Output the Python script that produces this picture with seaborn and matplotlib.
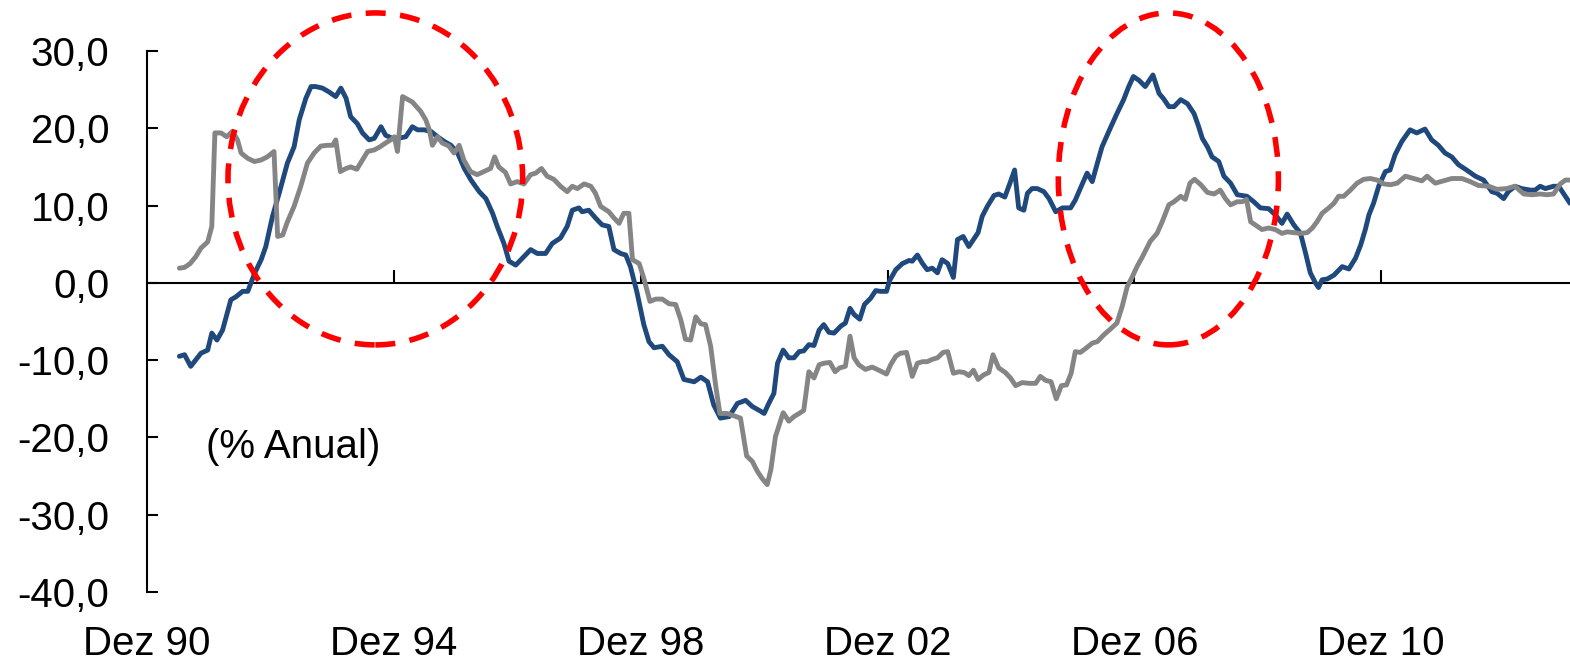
import numpy as np
import pandas as pd
import matplotlib
matplotlib.use("Agg")
import matplotlib.pyplot as plt
from matplotlib.patches import Ellipse
import seaborn as sns

# months after Dez 90 and annual % change
blue_months = [6.3, 7.3, 8.5, 10.5, 11.8, 12.6, 13.6, 14.7, 16.3, 17.3, 18.6, 19.6, 20.9, 22.2, 23.1, 24.4,
               25.7, 27.3, 28.6, 29.6, 30.9, 31.9, 32.8, 34.1, 35.4, 36.7, 37.7, 38.7, 39.6, 40.9, 41.9, 43.2,
               44.2, 45.5, 46.4, 47.7, 48.7, 50.3, 51.6, 52.6, 53.9, 55.2, 56.5, 57.8, 59.1, 60.4, 61.7, 63.0,
               64.6, 65.9, 67.2, 68.1, 69.4, 70.4, 71.7, 73.0, 74.6, 75.9, 77.5, 78.8, 80.4, 81.7, 82.7, 84.0,
               84.6, 85.9, 87.2, 88.5, 89.8, 90.8, 92.1, 93.1, 94.0, 95.3, 96.6, 97.6, 98.6, 100.2, 101.5, 103.1,
               104.4, 106.4, 107.7, 109.0, 110.2, 111.5, 113.2, 114.8, 116.4, 117.7, 119.3, 120.0, 120.9, 121.9,
               122.6, 123.7, 124.8, 125.8, 126.8, 127.7, 128.7, 129.7, 130.7, 131.6, 132.6, 133.6, 134.9, 135.8,
               136.7, 137.5, 138.6, 139.5, 140.7, 141.7, 142.6, 143.8, 144.4, 145.6, 146.9, 148.2, 148.8, 149.8,
               150.8, 151.7, 152.7, 153.7, 154.6, 155.7, 156.8, 157.6, 158.7, 159.8, 161.6, 162.4, 163.4, 164.7,
               165.6, 166.8, 167.8, 168.7, 169.5, 170.5, 171.2, 172.1, 173.1, 174.4, 175.4, 176.7, 178.0, 179.6,
               180.5, 181.8, 182.8, 183.8, 184.8, 185.7, 187.3, 188.6, 189.9, 190.9, 191.8, 192.9, 194.1, 195.6,
               196.8, 197.7, 198.7, 199.7, 201.0, 202.3, 203.6, 204.5, 205.2, 206.2, 207.1, 208.4, 209.4, 210.7,
               212.0, 213.9, 215.2, 216.5, 218.1, 219.4, 220.7, 221.7, 223.0, 224.3, 225.3, 226.2, 227.2, 227.8,
               228.5, 229.5, 230.8, 232.4, 233.7, 235.0, 236.0, 236.9, 237.6, 238.5, 239.5, 240.8, 241.7, 242.7,
               244.0, 245.6, 246.9, 248.5, 249.8, 251.1, 252.4, 253.7, 255.0, 256.6, 258.3, 259.9, 261.5, 262.5,
               263.8, 264.7, 266.0, 267.3, 269.0, 269.9, 270.9, 271.9, 273.5, 274.5, 275.4, 276.7]
blue_values = [-9.5, -9.3, -10.8, -9.1, -8.7, -6.5, -7.4, -6.1, -2.2, -1.8, -1.1, -1.1, 1.2, 3.0, 4.7, 8.6,
               11.6, 15.5, 17.6, 21.1, 23.9, 25.4, 25.4, 25.2, 24.7, 24.1, 25.2, 23.9, 21.5, 20.6, 19.4, 18.5,
               18.7, 20.2, 19.1, 18.7, 18.7, 18.9, 20.2, 19.8, 19.8, 19.6, 18.9, 18.3, 17.8, 16.8, 14.8, 13.3,
               11.8, 10.9, 9.0, 7.3, 5.1, 2.8, 2.3, 3.2, 4.3, 3.8, 3.8, 5.1, 5.8, 7.3, 9.4, 9.7,
               9.2, 9.4, 8.4, 7.5, 7.3, 4.3, 3.8, 3.6, 2.1, -1.3, -5.4, -7.6, -8.4, -8.2, -9.3, -10.2,
               -12.5, -12.8, -12.2, -12.8, -15.8, -17.5, -17.3, -15.6, -15.2, -16.0, -16.6, -16.9, -15.6, -14.3,
               -10.4, -8.7, -9.7, -9.7, -8.9, -8.8, -8.0, -8.1, -6.1, -5.4, -6.4, -6.5, -5.6, -5.2,
               -3.3, -4.1, -4.7, -2.8, -2.0, -1.0, -1.1, -1.1, 0.3, 1.7, 2.5, 2.9, 2.8, 3.6,
               2.5, 1.7, 1.9, 1.3, 3.0, 2.5, 0.7, 5.6, 6.0, 4.7, 6.5, 8.6, 9.9, 11.3,
               11.5, 11.1, 12.9, 14.6, 9.7, 9.4, 11.6, 12.2, 12.2, 11.8, 10.9, 9.2, 9.7, 9.7,
               10.7, 12.7, 14.2, 13.1, 15.5, 17.6, 20.0, 21.9, 23.7, 25.4, 26.7, 26.2, 25.4, 26.9,
               24.5, 23.8, 22.8, 22.8, 23.7, 23.2, 21.9, 20.2, 18.7, 17.6, 16.3, 15.7, 13.8, 12.9,
               11.4, 11.2, 10.5, 9.7, 9.6, 8.8, 7.7, 8.9, 7.5, 6.4, 3.8, 1.3, 0.0, -0.6,
               0.4, 0.5, 1.0, 2.1, 1.8, 3.2, 4.9, 6.9, 8.8, 10.3, 12.5, 14.4, 14.6, 16.6,
               18.3, 19.8, 19.4, 19.9, 18.5, 17.8, 16.8, 16.3, 15.3, 14.6, 13.8, 13.3, 11.8, 11.6,
               10.9, 11.8, 12.5, 12.2, 12.0, 12.0, 12.5, 12.2, 12.5, 12.5, 11.6, 10.3]

gray_months = [6.3, 7.3, 8.4, 9.5, 10.5, 11.8, 12.6, 13.2, 14.4, 15.5, 16.6, 17.6, 18.3, 19.6, 20.9, 22.2,
               23.4, 24.7, 25.4, 26.4, 27.3, 28.6, 29.9, 31.2, 32.5, 33.8, 35.1, 36.1, 36.7, 37.6, 38.7, 39.6,
               40.8, 41.9, 42.9, 44.2, 45.3, 46.4, 47.4, 48.1, 48.7, 49.7, 51.6, 53.2, 54.2, 54.9, 55.5, 56.5,
               57.4, 58.7, 59.7, 60.7, 61.6, 62.9, 64.2, 65.5, 66.8, 67.6, 68.4, 69.7, 70.7, 72.0, 73.3, 74.6,
               75.6, 76.7, 77.8, 79.1, 80.4, 81.7, 82.7, 83.7, 85.0, 86.3, 87.2, 88.2, 89.8, 90.8, 91.8, 92.7,
               93.7, 94.4, 95.7, 96.6, 97.8, 98.9, 100.2, 101.5, 102.8, 103.8, 104.7, 105.7, 106.7, 107.7, 108.6,
               109.6, 110.6, 111.4, 112.8, 114.1, 115.4, 116.6, 117.7, 118.7, 119.6, 120.6, 121.3, 122.2, 123.7,
               124.8, 125.8, 126.8, 127.7, 128.7, 129.7, 130.7, 131.6, 132.8, 133.8, 134.7, 135.8, 136.7, 137.5,
               138.4, 139.7, 141.0, 142.3, 143.8, 144.6, 145.6, 146.5, 147.7, 148.8, 149.8, 150.8, 151.7, 152.7,
               153.7, 154.8, 155.7, 156.8, 157.9, 158.9, 159.8, 160.7, 161.6, 162.7, 163.7, 164.5, 165.6, 166.9,
               167.9, 168.9, 170.2, 171.5, 172.8, 173.7, 174.7, 175.8, 176.8, 177.8, 178.8, 179.7, 180.5, 181.5,
               182.7, 183.8, 184.8, 186.1, 187.3, 188.6, 189.6, 190.6, 191.6, 192.5, 193.5, 195.1, 196.4, 197.4,
               198.7, 199.7, 201.0, 201.9, 202.8, 203.7, 204.9, 206.2, 207.5, 208.7, 209.7, 210.7, 212.0, 213.0,
               213.8, 214.6, 215.5, 216.8, 218.1, 219.4, 220.7, 221.7, 223.0, 224.3, 225.6, 226.6, 227.5, 228.5,
               229.8, 230.8, 231.7, 232.7, 234.0, 235.3, 236.6, 237.9, 239.2, 240.5, 241.8, 243.1, 244.7, 246.3,
               247.9, 248.9, 250.5, 252.1, 253.7, 255.7, 257.3, 258.9, 260.9, 262.5, 264.4, 266.0, 267.7, 269.3,
               270.9, 272.2, 273.5, 274.8, 275.8, 276.7]
gray_values = [1.9, 2.0, 2.5, 3.4, 4.5, 5.3, 7.3, 19.4, 19.4, 18.9, 19.6, 18.5, 16.8, 16.1, 15.7, 15.9,
               16.3, 17.0, 6.0, 6.2, 7.9, 9.9, 12.5, 15.5, 16.8, 17.7, 17.8, 17.8, 18.5, 14.4, 14.8, 15.0,
               14.7, 15.9, 17.0, 17.2, 17.6, 18.1, 18.5, 18.9, 17.0, 24.1, 23.4, 22.2, 21.1, 19.8, 17.8, 18.9,
               18.1, 17.7, 16.8, 17.8, 15.9, 14.4, 14.0, 14.4, 14.8, 16.3, 15.0, 14.3, 12.8, 13.1, 12.8, 14.0,
               14.2, 14.8, 13.8, 13.4, 12.5, 11.8, 12.5, 12.2, 12.8, 12.5, 11.6, 9.9, 9.2, 8.4, 7.7, 9.0,
               9.0, 3.0, 2.5, 0.6, -2.4, -2.1, -2.1, -2.7, -2.8, -4.8, -7.3, -7.4, -4.4, -5.3, -5.4,
               -8.2, -13.4, -16.9, -16.9, -17.2, -17.5, -22.4, -23.1, -24.4, -25.3, -26.1, -24.2, -19.9, -16.8,
               -17.9, -17.3, -16.9, -16.5, -11.5, -12.3, -10.6, -10.4, -10.3, -11.5, -11.0, -10.8, -6.9, -9.7,
               -10.6, -11.2, -10.9, -11.3, -11.8, -10.6, -9.5, -9.1, -9.0, -12.1, -10.4, -10.2, -10.2, -9.9,
               -9.7, -9.0, -8.9, -11.7, -11.5, -11.6, -12.0, -11.3, -12.5, -11.9, -11.6, -9.3, -11.0, -11.6,
               -12.3, -13.3, -12.9, -13.0, -13.0, -12.1, -12.6, -12.8, -15.0, -13.3, -13.2, -11.7, -8.9, -9.0,
               -8.4, -7.8, -7.6, -6.7, -6.0, -5.2, -3.1, -0.5, 0.8, 2.1, 3.3, 5.4, 6.4, 7.9,
               10.1, 10.5, 11.2, 10.8, 12.9, 13.4, 12.7, 11.7, 11.5, 12.0, 10.9, 10.1, 10.5, 10.5,
               10.8, 7.9, 7.5, 6.9, 7.1, 6.9, 6.4, 6.6, 6.5, 6.4, 6.5, 7.1, 7.9, 9.0,
               9.7, 10.3, 11.2, 11.2, 12.0, 12.9, 13.4, 13.5, 13.3, 12.8, 12.7, 12.9, 13.8, 13.5,
               13.2, 13.8, 12.9, 13.2, 13.5, 13.5, 13.1, 12.6, 12.5, 12.1, 12.2, 12.5, 11.5, 11.4,
               11.5, 11.4, 11.5, 12.8, 13.3, 13.3]

tick_months = [0, 48, 96, 144, 192, 240]
tick_labels = ["Dez 90", "Dez 94", "Dez 98", "Dez 02", "Dez 06", "Dez 10"]
y_ticks = [30, 20, 10, 0, -10, -20, -30, -40]
y_labels = ["30,0", "20,0", "10,0", "0,0", "-10,0", "-20,0", "-30,0", "-40,0"]

blue_df = pd.DataFrame({"mes": blue_months, "valor": blue_values})
gray_df = pd.DataFrame({"mes": gray_months, "valor": gray_values})

sns.set_style("white")
plt.rcParams["font.family"] = ["Liberation Sans", "DejaVu Sans"]
plt.rcParams["text.color"] = "black"

fig = plt.figure(figsize=(15.7, 6.62), dpi=100)
ax = fig.add_axes([147 / 1570, 70 / 662, 1423 / 1570, 541 / 662])

sns.lineplot(data=blue_df, x="mes", y="valor", color="#1F497D", linewidth=3.5, estimator=None, ax=ax)
sns.lineplot(data=gray_df, x="mes", y="valor", color="#858585", linewidth=3.5, estimator=None, ax=ax)

# highlighted periods
for cx, w in [(44.4, 57.3), (198.6, 42.8)]:
    ax.add_patch(Ellipse((cx, 13.45), w, 42.95, fill=False, edgecolor="#FF0000",
                         linewidth=4, linestyle=(0, (3.6, 2.6)), clip_on=False, zorder=5))

ax.set_xlim(0, 276.7)
ax.set_ylim(-40, 30)
ax.set_xlabel("")
ax.set_ylabel("")

for s in ["top", "right", "bottom"]:
    ax.spines[s].set_visible(False)
ax.spines["left"].set_linewidth(1.5)
ax.spines["left"].set_color("black")

ax.set_yticks(y_ticks)
ax.set_yticklabels(y_labels)
ax.tick_params(axis="y", left=True, direction="in", length=8, width=1.5, color="black",
               labelsize=29, labelcolor="black", pad=27)

ax.set_xticks(tick_months)
ax.set_xticklabels(tick_labels)
ax.tick_params(axis="x", length=0, labelsize=29, labelcolor="black", pad=24)

# zero line with upward ticks
zero_ax = ax.secondary_xaxis(0, transform=ax.transData)
zero_ax.set_xticks(tick_months[1:])
zero_ax.tick_params(bottom=True, direction="in", length=9.5, width=1.5, color="black",
                    labelbottom=False, labeltop=False)
for s in zero_ax.spines.values():
    s.set_linewidth(1.5)
    s.set_color("black")

ax.text(11.5, -21.2, "(% Anual)", fontsize=29, va="center", ha="left", color="black")

fig.savefig("out.png", dpi=100)
